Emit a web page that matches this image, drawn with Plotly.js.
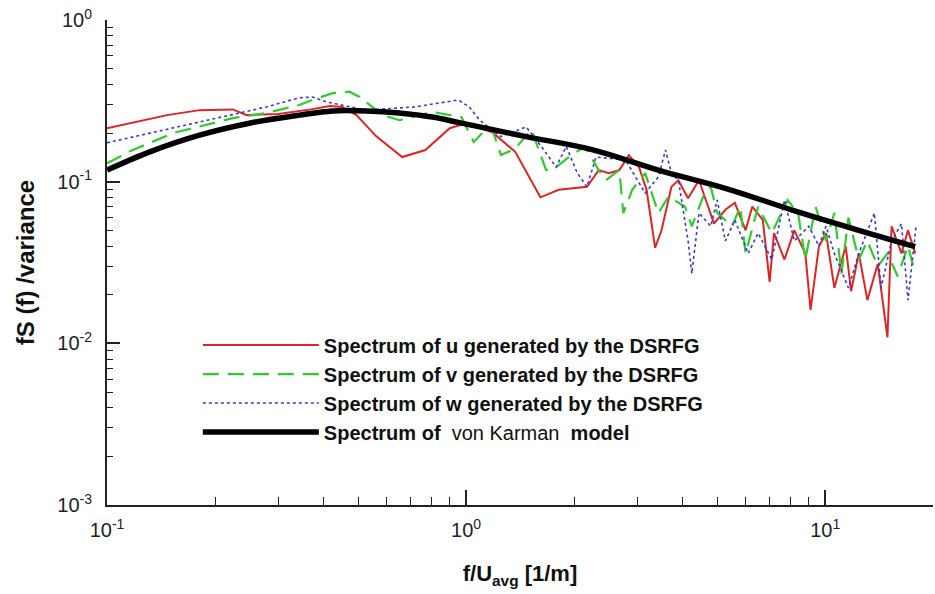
<!DOCTYPE html>
<html>
<head>
<meta charset="utf-8">
<script src="https://cdn.plot.ly/plotly-3.0.1.min.js"></script>
<style>
  html, body { margin: 0; padding: 0; background: #ffffff; }
  #chart { width: 935px; height: 594px; }
</style>
</head>
<body>
<div id="chart"></div>
<script>
// ---- Data ----
// von Karman model
const karmanX = [0.1, 0.1316, 0.181, 0.249, 0.343, 0.425, 0.527, 0.652, 0.805, 0.957, 1.47, 2.24, 3.43, 5.27, 8.05, 12.4, 17.8];
const karmanY = [0.118, 0.153, 0.194, 0.230, 0.258, 0.274, 0.274, 0.266, 0.251, 0.232, 0.19, 0.158, 0.118, 0.091, 0.067, 0.050, 0.0396];

// Spectrum of u (DSRFG)
const uX = [0.1, 0.147, 0.181, 0.224, 0.245, 0.3, 0.37, 0.417, 0.452, 0.495, 0.563, 0.664, 0.77, 0.9, 1.0, 1.18, 1.37, 1.61, 1.81, 2.17, 2.34, 2.5, 2.67, 2.84, 3.03, 3.18, 3.36, 3.5, 3.73, 3.9, 4.15, 4.45, 4.65, 4.9, 5.27, 5.6, 6.0, 6.26, 6.7, 7.0, 7.2, 7.7, 8.2, 8.8, 9.1, 9.6, 10.05, 10.6, 11.4, 11.8, 12.4, 13.1, 14.0, 14.9, 15.3, 16.3, 17.0, 17.8];
const uY = [0.214, 0.258, 0.277, 0.28, 0.258, 0.262, 0.28, 0.294, 0.29, 0.258, 0.19, 0.142, 0.157, 0.214, 0.23, 0.203, 0.153, 0.080, 0.089, 0.093, 0.118, 0.113, 0.118, 0.146, 0.123, 0.089, 0.039, 0.05, 0.093, 0.102, 0.079, 0.102, 0.077, 0.055, 0.067, 0.074, 0.05, 0.070, 0.058, 0.024, 0.048, 0.033, 0.05, 0.036, 0.0161, 0.0396, 0.048, 0.022, 0.04, 0.021, 0.036, 0.0185, 0.031, 0.0109, 0.053, 0.036, 0.05, 0.036];

// Spectrum of v (DSRFG)
const vX = [0.1, 0.118, 0.153, 0.224, 0.278, 0.343, 0.373, 0.425, 0.473, 0.505, 0.585, 0.652, 0.805, 0.97, 1.05, 1.11, 1.18, 1.25, 1.37, 1.52, 1.67, 1.78, 1.93, 2.14, 2.34, 2.45, 2.67, 2.74, 2.9, 3.15, 3.43, 3.66, 4.07, 4.25, 4.65, 4.8, 5.0, 5.5, 5.8, 6.0, 6.5, 7.1, 7.85, 8.4, 8.8, 9.4, 10.05, 10.6, 11.1, 11.6, 12.4, 13.1, 14.0, 14.9, 15.9, 17.0, 17.8];
const vY = [0.13, 0.157, 0.2, 0.247, 0.266, 0.298, 0.32, 0.353, 0.36, 0.334, 0.258, 0.24, 0.27, 0.251, 0.176, 0.2, 0.214, 0.146, 0.16, 0.21, 0.118, 0.123, 0.142, 0.165, 0.118, 0.102, 0.118, 0.064, 0.089, 0.113, 0.064, 0.081, 0.07, 0.053, 0.089, 0.093, 0.064, 0.053, 0.07, 0.036, 0.07, 0.048, 0.077, 0.064, 0.033, 0.07, 0.043, 0.064, 0.027, 0.06, 0.033, 0.043, 0.03, 0.036, 0.026, 0.04, 0.027];

// Spectrum of w (DSRFG)
const wX = [0.1, 0.132, 0.181, 0.224, 0.278, 0.343, 0.373, 0.409, 0.527, 0.72, 0.95, 1.02, 1.09, 1.25, 1.47, 1.62, 1.78, 1.9, 2.04, 2.17, 2.3, 2.78, 3.15, 3.43, 3.59, 3.73, 3.9, 4.15, 4.25, 4.45, 4.8, 5.0, 5.27, 5.6, 6.1, 6.5, 7.1, 7.7, 8.2, 9.0, 9.6, 10.05, 10.6, 11.6, 12.4, 13.7, 14.3, 15.3, 16.3, 17.0, 17.9];
const wY = [0.174, 0.2, 0.234, 0.258, 0.29, 0.33, 0.334, 0.311, 0.277, 0.29, 0.32, 0.29, 0.24, 0.19, 0.218, 0.165, 0.123, 0.165, 0.113, 0.093, 0.142, 0.136, 0.085, 0.107, 0.157, 0.113, 0.102, 0.043, 0.027, 0.064, 0.053, 0.077, 0.043, 0.058, 0.036, 0.048, 0.033, 0.077, 0.043, 0.053, 0.04, 0.053, 0.036, 0.022, 0.036, 0.064, 0.022, 0.043, 0.055, 0.0185, 0.053];

const xTickVals = [0.1, 1, 10];
const xTickText = ['10<sup>-1</sup>', '10<sup>0</sup>', '10<sup>1</sup>'];
const yTickVals = [0.001, 0.01, 0.1, 1];
const yTickText = ['10<sup>-3</sup>', '10<sup>-2</sup>', '10<sup>-1</sup>', '10<sup>0</sup>'];

const traces = [
  { x: uX, y: uY, mode: 'lines', name: '<b>Spectrum of u generated by the DSRFG</b>',
    line: { color: '#e02424', width: 2 } },
  { x: vX, y: vY, mode: 'lines', name: '<b>Spectrum of v generated by the DSRFG</b>',
    line: { color: '#2ecc2e', width: 2.2, dash: '16px,9px' } },
  { x: wX, y: wY, mode: 'lines', name: '<b>Spectrum of w generated by the DSRFG</b>',
    line: { color: '#3a3ad0', width: 1.6, dash: 'dot' } },
  { x: karmanX, y: karmanY, mode: 'lines', name: '<b>Spectrum of</b>  von Karman  <b>model</b>',
    line: { color: '#000000', width: 5.5, shape: 'spline' } }
];

const axisFont = { family: 'Liberation Sans, Arial, sans-serif', size: 20, color: '#222' };

const layout = {
  width: 935, height: 594,
  margin: { l: 107, r: 2, t: 20, b: 89 },
  paper_bgcolor: '#ffffff', plot_bgcolor: '#ffffff',
  showlegend: true,
  legend: {
    x: 0.11, xanchor: 'left', y: 0.37, yanchor: 'top',
    bgcolor: 'rgba(255,255,255,0)', borderwidth: 0,
    itemwidth: 116,
    font: { family: 'Liberation Sans, Arial, sans-serif', size: 20, color: '#111' },
    tracegroupgap: 0
  },
  xaxis: {
    type: 'log', range: [-1, 1.3],
    showgrid: false, zeroline: false,
    showline: true, linecolor: '#222', linewidth: 2, mirror: false,
    ticks: 'inside', ticklen: 15, tickwidth: 2, tickcolor: '#222',
    tickmode: 'array', tickvals: xTickVals, ticktext: xTickText,
    tickfont: axisFont, ticklabelstandoff: 6,
    minor: { ticks: 'inside', ticklen: 8, tickwidth: 1, tickcolor: '#222', dtick: 'D1', showgrid: false },
    title: { text: '<b>f/U<sub>avg</sub> [1/m]</b>', font: { family: 'Liberation Sans, Arial, sans-serif', size: 22, color: '#111' }, standoff: 26 }
  },
  yaxis: {
    type: 'log', range: [-3, 0],
    showgrid: false, zeroline: false,
    showline: true, linecolor: '#222', linewidth: 2, mirror: false,
    ticks: 'inside', ticklen: 13, tickwidth: 2, tickcolor: '#222',
    tickmode: 'array', tickvals: yTickVals, ticktext: yTickText,
    tickfont: axisFont, ticklabelstandoff: 9,
    minor: { ticks: 'inside', ticklen: 6, tickwidth: 1, tickcolor: '#222', dtick: 'D1', showgrid: false },
    title: { text: '<b>fS (f) /variance</b>', font: { family: 'Liberation Sans, Arial, sans-serif', size: 24, color: '#111' }, standoff: 16 }
  }
};

Plotly.newPlot('chart', traces, layout, { displayModeBar: false, staticPlot: true });
</script>
</body>
</html>
